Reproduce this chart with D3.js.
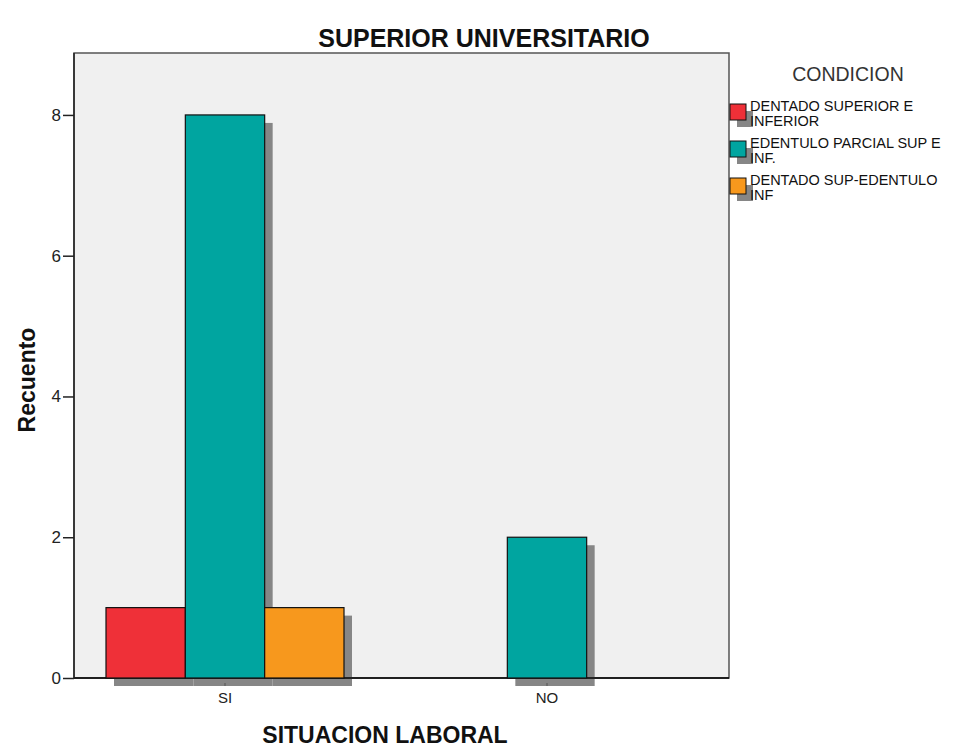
<!DOCTYPE html>
<html><head><meta charset="utf-8">
<script src="https://cdn.jsdelivr.net/npm/d3@7"></script>
<style>body{margin:0;background:#fff}svg{display:block}</style>
</head><body>
<script>
const categories = ["SI", "NO"];
const series = ["DENTADO SUPERIOR E INFERIOR", "EDENTULO PARCIAL SUP E INF.", "DENTADO SUP-EDENTULO INF"];
const legendLines = [["DENTADO SUPERIOR E", "INFERIOR"], ["EDENTULO PARCIAL SUP E", "INF."], ["DENTADO SUP-EDENTULO", "INF"]];
const valuesDentado = [1, 0];
const valuesEdentuloParcial = [8, 2];
const valuesDentadoSupEdInf = [1, 0];
const colors = ["#ef3038", "#00a5a0", "#f7981d"];
const yTicks = [0, 2, 4, 6, 8];

const FONT = "Arial, 'Liberation Sans', sans-serif";
const W = 962, H = 749;
const svg = d3.select("body").append("svg").attr("width", W).attr("height", H);
const frame = {l: 74, t: 53, r: 729, b: 678};

const y = d3.scaleLinear().domain([0, 8.88]).range([frame.b, frame.t]);
const x0 = d3.scaleBand().domain(categories).range([64, 708]).padding(0);
const x1 = d3.scaleBand().domain(series).range([0, 238]);

svg.append("rect").attr("x", frame.l).attr("y", frame.t).attr("width", frame.r - frame.l).attr("height", frame.b - frame.t)
  .attr("fill", "#f0f0f0").attr("stroke", "#555").attr("stroke-width", 1.5);

const allVals = [valuesDentado, valuesEdentuloParcial, valuesDentadoSupEdInf];
const data = [];
categories.forEach((c, ci) => series.forEach((s, si) => {
  data.push({c, s, si, v: allVals[si][ci]});
}));

const groupOffset = c => x0(c) + (x0.bandwidth() - 238) / 2;

const sh = 8;
svg.selectAll(".shadow").data(data.filter(d => d.v > 0)).enter().append("rect")
  .attr("x", d => groupOffset(d.c) + x1(d.s) + sh)
  .attr("y", d => y(d.v) + sh)
  .attr("width", x1.bandwidth())
  .attr("height", d => y(0) - y(d.v))
  .attr("fill", "#868686");

svg.append("line").attr("x1", frame.l).attr("x2", frame.r).attr("y1", frame.b).attr("y2", frame.b).attr("stroke", "#000").attr("stroke-width", 1.5);

svg.selectAll(".bar").data(data.filter(d => d.v > 0)).enter().append("rect")
  .attr("x", d => groupOffset(d.c) + x1(d.s))
  .attr("y", d => y(d.v))
  .attr("width", x1.bandwidth())
  .attr("height", d => y(0) - y(d.v))
  .attr("fill", d => colors[d.si])
  .attr("stroke", "#111").attr("stroke-width", 1.2);

svg.append("line").attr("x1", frame.l).attr("x2", frame.l).attr("y1", frame.t).attr("y2", frame.b).attr("stroke", "#222").attr("stroke-width", 1.5);

const yAxis = d3.axisLeft(y).tickValues(yTicks).tickSize(11).tickPadding(2).tickFormat(d3.format("d"));
const gy = svg.append("g").attr("transform", `translate(${frame.l},0)`).call(yAxis);
gy.select(".domain").remove();
gy.selectAll("line").attr("stroke", "#222").attr("stroke-width", 1.5);
gy.selectAll("text").attr("font-family", FONT).attr("font-size", 17).attr("fill", "#222");

const xAxis = d3.axisBottom(x0).tickSize(3).tickPadding(6);
const gx = svg.append("g").attr("transform", `translate(0,${frame.b + 5})`).call(xAxis);
gx.select(".domain").remove();
gx.selectAll("line").attr("stroke", "#555");
gx.selectAll("text").attr("font-family", FONT).attr("font-size", 15).attr("fill", "#222");

svg.append("text").attr("x", 484).attr("y", 47).attr("text-anchor", "middle")
  .attr("font-family", FONT).attr("font-weight", "bold").attr("font-size", 25).attr("fill", "#111")
  .text("SUPERIOR UNIVERSITARIO");
svg.append("text").attr("x", 385).attr("y", 743).attr("text-anchor", "middle")
  .attr("font-family", FONT).attr("font-weight", "bold").attr("font-size", 23).attr("fill", "#111")
  .text("SITUACION LABORAL");
svg.append("text").attr("transform", "translate(35,380) rotate(-90)").attr("text-anchor", "middle")
  .attr("font-family", FONT).attr("font-weight", "bold").attr("font-size", 23).attr("fill", "#111")
  .text("Recuento");

svg.append("text").attr("x", 848).attr("y", 81).attr("text-anchor", "middle")
  .attr("font-family", FONT).attr("font-size", 19.5).attr("fill", "#333")
  .text("CONDICION");
const lg = svg.append("g");
series.forEach((s, i) => {
  const yy = 104 + i * 37;
  lg.append("rect").attr("x", 737).attr("y", yy + 7).attr("width", 16).attr("height", 16).attr("fill", "#868686");
  lg.append("rect").attr("x", 730).attr("y", yy).attr("width", 16).attr("height", 16).attr("fill", colors[i]).attr("stroke", "#111").attr("stroke-width", 1);
  const t = lg.append("text").attr("x", 750).attr("y", yy + 7)
    .attr("font-family", FONT).attr("font-size", 14.5).attr("fill", "#111");
  legendLines[i].forEach((ln, j) => t.append("tspan").attr("x", 750).attr("dy", j === 0 ? 0 : 15).text(ln));
});
</script>
</body></html>
